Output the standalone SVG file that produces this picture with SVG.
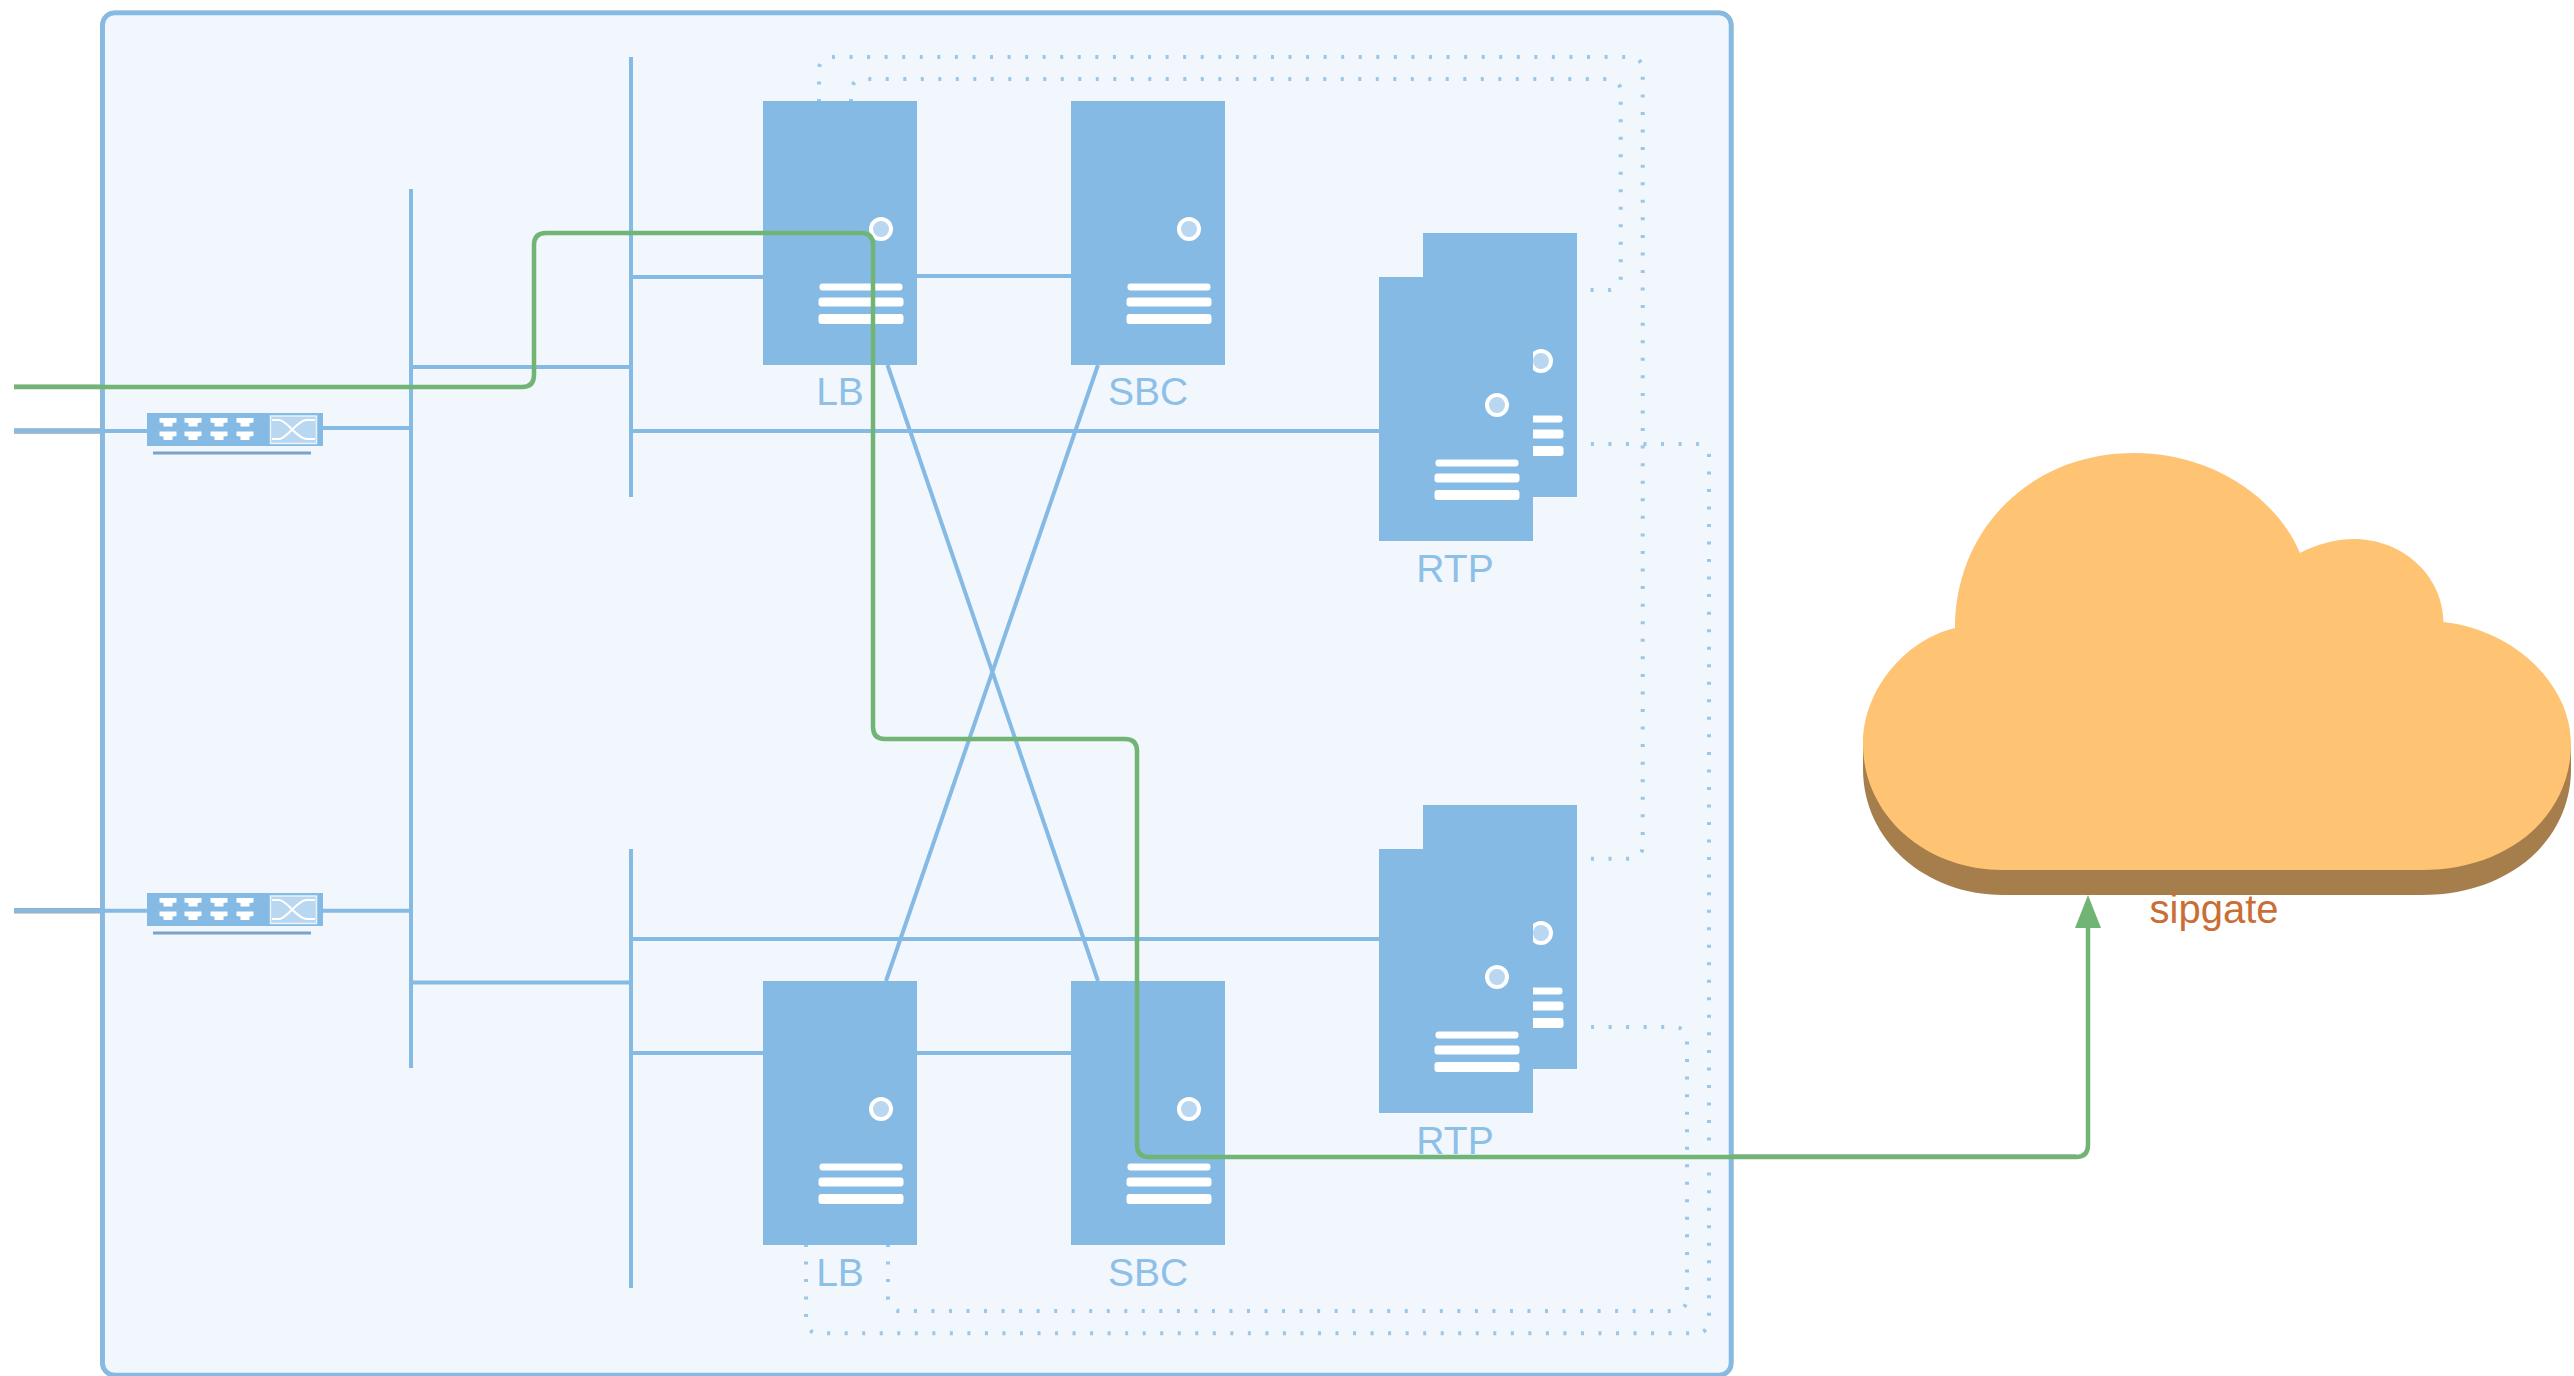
<svg xmlns="http://www.w3.org/2000/svg" xmlns:xlink="http://www.w3.org/1999/xlink" width="2574" height="1376" viewBox="0 0 2574 1376">
<style>
.fill{fill:#85bae4}
.bar{fill:#fff}
.led{fill:#b9d7f0;stroke:#fff;stroke-width:4}
.lbl{font-family:"Liberation Sans",Arial,sans-serif;font-size:39px;fill:#8dbfe7;text-anchor:middle}
.sip{font-family:"Liberation Sans",Arial,sans-serif;font-size:40px;fill:#c96f35;text-anchor:middle}
.ln{fill:none;stroke:#85bae4;stroke-width:4}
.dot{fill:none;stroke:#85bae4;stroke-width:4;opacity:.8}
.halo{fill:none;stroke:#a3a8ad;stroke-width:5.6}
.grn{fill:none;stroke:#70b573;stroke-width:4.5}
.port{fill:#fff}
</style>
<defs>
<g id="server">
<rect class="fill" width="154" height="264"/>
<circle class="led" cx="118" cy="128" r="10"/>
<rect class="bar" x="56.5" y="182.5" width="83" height="7" rx="3"/>
<rect class="bar" x="55.5" y="196.5" width="85" height="9" rx="3"/>
<rect class="bar" x="55.5" y="213" width="85" height="10" rx="3"/>
</g>
<g id="switch">
<rect class="fill" x="0" y="0" width="176" height="33"/>
<rect x="6" y="38.5" width="158" height="3" fill="#7aa5c8"/>
<path id="p" class="port" d="M12.5,5H29.5V9.5L25.5,10V13.5H16.5V10L12.5,9.5Z"/>
<use xlink:href="#p" href="#p" x="25"/><use xlink:href="#p" href="#p" x="51"/><use xlink:href="#p" href="#p" x="77"/>
<use xlink:href="#p" href="#p" y="13.5"/><use xlink:href="#p" href="#p" x="25" y="13.5"/><use xlink:href="#p" href="#p" x="51" y="13.5"/><use xlink:href="#p" href="#p" x="77" y="13.5"/>
<rect x="123.5" y="3" width="46" height="27.5" fill="#b9d7f0" stroke="#e8f2fb" stroke-width="1.5"/>
<path d="M125,7H132C140,7 150,26 160,26H168M125,26H132C140,26 150,7 160,7H168" fill="none" stroke="#fff" stroke-width="2"/>
</g>
<marker id="arrow" markerUnits="userSpaceOnUse" markerWidth="34" markerHeight="28" refX="0" refY="14" orient="auto" viewBox="0 0 34 28">
<path d="M0,1L33,14L0,27Z" fill="#70b573"/>
</marker>
<path id="cloudshape" d="M1863,744C1863,690 1905,640 1955,628C1955,530 2030,453 2134,453C2210,453 2275,495 2300,553C2315,545 2335,539 2354,539C2402,539 2443,575 2443.5,622C2515,630 2571,685 2571,744C2571,815 2510,870 2421,870L2003,870C1925,870 1863,815 1863,744Z"/>
</defs>

<g id="frame">
<rect x="102.7" y="13" width="1628.3" height="1362" rx="12" fill="none" stroke="#a3a8ad" stroke-width="5.2"/>
<rect x="102.7" y="13" width="1628.3" height="1362" rx="12" fill="#f2f7fe" stroke="#85bae4" stroke-width="4.5"/>
</g>

<g id="switch-1"><use xlink:href="#switch" href="#switch" x="147" y="413"/></g>
<g id="switch-2"><use xlink:href="#switch" href="#switch" x="147" y="893"/></g>

<g id="lb-top"><use xlink:href="#server" href="#server" x="763" y="101"/><text class="lbl" x="840" y="405">LB</text></g>
<g id="sbc-top"><use xlink:href="#server" href="#server" x="1071" y="101"/><text class="lbl" x="1148" y="405">SBC</text></g>
<g id="lb-bottom"><use xlink:href="#server" href="#server" x="763" y="981"/><text class="lbl" x="840" y="1286">LB</text></g>
<g id="sbc-bottom"><use xlink:href="#server" href="#server" x="1071" y="981"/><text class="lbl" x="1148" y="1286">SBC</text></g>
<g id="rtp-top"><use xlink:href="#server" href="#server" x="1423" y="233"/><use xlink:href="#server" href="#server" x="1379" y="277"/><text class="lbl" x="1455" y="582">RTP</text></g>
<g id="rtp-bottom"><use xlink:href="#server" href="#server" x="1423" y="805"/><use xlink:href="#server" href="#server" x="1379" y="849"/><text class="lbl" x="1455" y="1154">RTP</text></g>

<g id="cloud">
<rect x="1863" y="744" width="708" height="25" fill="#a67e4c"/>
<use xlink:href="#cloudshape" href="#cloudshape" y="25" fill="#a67e4c"/>
<use xlink:href="#cloudshape" href="#cloudshape" fill="#ffc374"/>
<text class="sip" x="2214" y="923">sipgate</text>
</g>

<g id="connectors">
<path class="halo" d="M14,431H101M14,910.7H101"/>
<path d="M14,385.2H101" fill="none" stroke="#a3a8ad" stroke-width="1.5"/>
<path class="ln" d="M14,431H147M323,428H411M14,910.7H147M323,910.7H411"/>
<path class="ln" d="M411,189V1068M631,57V497M631,849V1288"/>
<path class="ln" d="M411,367H631M411,982.5H631M631,277H763M917,276H1071M631,431H1379M631,939H1379M631,1053H763M917,1053H1071"/>
<path class="ln" d="M887.5,365L1098,981M1098,365L886,981"/>
<path class="dot" stroke-dasharray="3 14.56" d="M819,102V69A12,12 0 0 1 831,57H1630.7A12,12 0 0 1 1642.7,69V846.7A12,12 0 0 1 1630.7,858.7H1578"/>
<path class="dot" stroke-dasharray="3 14.5" d="M851,102V91A12,12 0 0 1 863,79H1608.7A12,12 0 0 1 1620.7,91V278A12,12 0 0 1 1608.7,290H1578"/>
<path class="dot" stroke-dasharray="3 14.53" d="M806,1244V1321.3A12,12 0 0 0 818,1333.3H1697A12,12 0 0 0 1709,1321.3V456A12,12 0 0 0 1697,444H1578"/>
<path class="dot" stroke-dasharray="3 14.53" d="M888,1244V1299A12,12 0 0 0 900,1311H1675A12,12 0 0 0 1687,1299V1039A12,12 0 0 0 1675,1027H1578"/>
<path d="M1731,1155H2076" fill="none" stroke="#a3a8ad" stroke-width="1.5"/>
<path class="grn" marker-end="url(#arrow)" d="M14,387H522Q534,387 534,375V245Q534,233 546,233H861Q873,233 873,245V727Q873,739 885,739H1125Q1137,739 1137,751V1145Q1137,1157 1149,1157H2076Q2088,1157 2088,1145V928"/>
</g>
</svg>
